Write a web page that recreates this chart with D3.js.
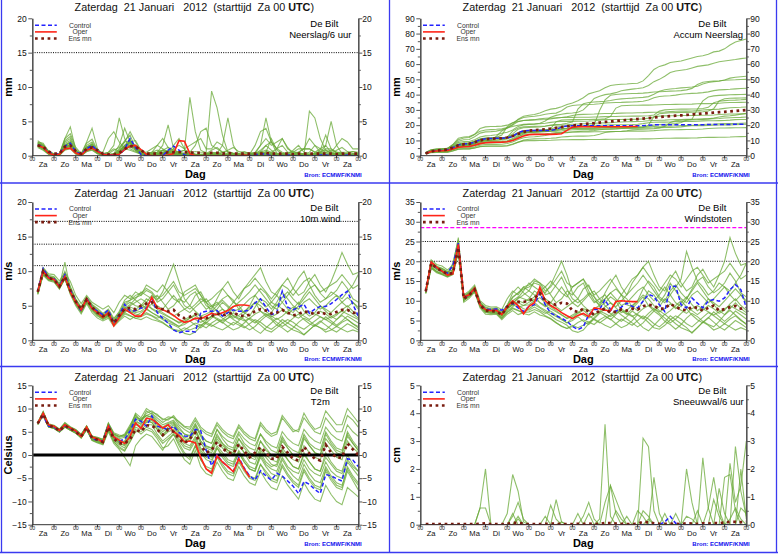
<!DOCTYPE html>
<html>
<head>
<meta charset="utf-8">
<script src="https://cdn.jsdelivr.net/npm/d3@7"></script>
<style>
  body { margin: 0; background: #fff; }
  text { font-family: "Liberation Sans", Arial, Helvetica, sans-serif; }
</style>
</head>
<body>
<svg id="chart" width="778" height="554"></svg>
<script>
// six-hourly forecast steps (+6h .. +360h) and day labels
const hours = d3.range(6, 361, 6);
const dayTicks = d3.range(0, 361, 24);
const dayNames = ["Za", "Zo", "Ma", "Di", "Wo", "Do", "Vr", "Za", "Zo", "Ma", "Di", "Wo", "Do", "Vr", "Za"];

// ---- precipitation per 6 hours (mm) ----
const precipControl = [
  1.6,1.3,0.5,0.2,0.3,1.4,1.8,0.6,0.2,1.0,1.5,0.7,0.2,0.1,0.1,0.1,1.0,2.5,1.2,0.2,
  0.0,0.0,0.0,0.0,0.8,1.4,0.8,0.1,0.0,0.0,0.0,0.0,0.0,0.0,0.0,0.0,0.0,0.0,0.0,0.0,
  0.1,0.3,0.2,0.0,0.0,0.0,0.1,0.0,0.0,0.0,0.0,0.0,0.1,0.1,0.0,0.0,0.0,0.1,0.0,0.0];
const precipOper = [
  1.5,1.2,0.4,0.1,0.2,1.0,1.1,0.4,0.1,0.8,1.1,0.6,0.2,0.1,0.1,0.2,0.9,1.4,1.5,0.9,
  0.2,0.0,0.0,0.0,0.1,0.3,2.2,2.1,0.3,0.0,0.0,0.0,0.0,0.0,0.0,0.0,0.0,0.0,0.1,0.0];
const precipMean = [
  1.5,1.3,0.6,0.3,0.3,1.3,1.5,0.7,0.3,1.0,1.2,0.8,0.3,0.2,0.2,0.4,1.0,1.4,1.3,0.8,
  0.3,0.3,0.3,0.4,0.5,0.5,0.5,0.5,0.5,0.4,0.4,0.3,0.4,0.4,0.3,0.4,0.3,0.3,0.3,0.3,
  0.3,0.3,0.4,0.3,0.3,0.3,0.3,0.2,0.3,0.3,0.3,0.3,0.3,0.3,0.3,0.2,0.3,0.3,0.3,0.3];
const precipMembers = [
  [2.2,1.6,0.5,0.2,0.3,2.5,4.2,0.8,0.2,1.5,2.0,0.8,0.3,0.2,0.3,0.8,2.0,3.5,2.0,0.6,
   0.5,1.0,1.5,1.0,0.5,1.0,1.5,1.0,1.5,2.0,2.5,1.0,1.0,2.0,1.5,0.5,0.3,0.2,0.3,0.2,
   1.5,3.5,4.0,2.0,1.0,1.5,0.5,0.5,1.0,1.0,1.0,0.5,1.0,1.5,0.5,1.5,2.5,2.0,1.0,1.0],
  [1.8,1.4,0.6,0.1,0.2,2.0,2.5,0.6,0.1,1.2,1.8,0.7,0.2,0.5,1.0,0.6,1.5,2.4,1.0,0.3,
   0.2,0.5,1.5,2.5,1.2,0.8,0.5,0.3,0.5,1.5,3.5,4.0,1.5,1.0,0.5,0.8,1.2,0.6,0.5,0.4,
   0.5,1.5,2.5,1.5,2.0,2.5,1.0,0.5,0.5,1.0,1.0,0.5,0.5,1.0,1.0,0.5,0.5,0.5,0.6,0.4],
  [1.6,1.2,0.4,0.1,0.1,1.5,2.0,0.5,0.1,1.0,1.5,0.6,0.2,0.1,0.2,1.0,2.2,3.0,1.0,0.2,
   0.1,0.2,0.5,0.8,0.3,0.2,0.6,0.8,8.5,3.5,0.8,0.4,0.2,0.3,0.5,0.6,0.4,0.3,0.2,0.3,
   0.2,0.5,1.5,2.0,1.0,0.5,0.3,0.4,0.3,0.3,0.5,1.5,1.0,0.5,0.3,0.8,1.2,0.6,0.3,0.3],
  [1.5,1.1,0.3,0.0,0.2,1.0,1.4,0.4,0.0,0.8,1.2,0.5,0.1,0.0,0.1,0.4,1.2,2.0,2.2,0.8,
   0.3,0.2,0.2,0.5,0.8,0.5,0.3,0.2,0.4,0.6,0.5,0.5,9.4,7.0,3.0,0.5,0.3,0.2,0.1,0.1,
   0.2,0.3,0.4,0.2,0.2,0.2,0.1,0.2,0.5,1.0,2.5,1.5,0.5,0.3,0.2,0.3,0.2,0.1,0.2,0.1],
  [2.0,1.5,0.7,0.3,0.2,2.5,3.2,1.2,0.3,2.0,4.0,1.0,0.2,0.1,0.2,0.6,1.5,2.0,1.5,0.5,
   0.3,0.5,0.8,0.5,0.3,1.5,2.5,1.0,0.3,0.2,0.1,0.2,0.3,0.5,0.2,0.1,0.1,0.2,0.1,0.2,
   0.3,0.8,1.5,0.8,0.3,0.2,0.4,0.6,0.3,0.2,0.2,0.3,0.5,0.8,0.5,0.2,0.2,0.3,0.2,0.2],
  [1.7,1.3,0.4,0.1,0.1,1.2,1.6,0.5,0.1,1.2,1.4,0.5,0.1,0.1,0.3,1.5,4.0,2.0,0.8,0.2,
   0.1,0.1,0.2,0.3,0.2,0.1,0.2,0.3,0.2,0.1,0.1,0.2,0.2,0.1,0.1,0.3,0.2,0.1,0.1,0.1,
   0.2,0.3,0.2,0.1,0.1,0.2,0.1,0.1,0.1,0.1,6.5,5.5,2.5,0.8,0.3,0.2,0.2,0.1,0.1,0.1],
  [1.4,1.0,0.3,0.0,0.1,0.9,1.2,0.3,0.0,0.7,1.0,0.4,0.1,0.0,0.1,0.5,1.0,1.6,1.2,0.4,
   0.2,0.3,0.5,0.8,0.6,0.3,0.2,0.4,0.3,0.2,0.2,0.3,0.5,0.4,0.2,0.1,0.1,0.2,0.1,0.1,
   0.3,1.5,5.5,2.0,0.4,0.2,0.1,0.1,0.1,0.1,0.1,0.2,0.5,1.5,5.0,1.5,0.3,0.1,0.1,0.1],
  [1.6,1.1,0.4,0.1,0.2,1.8,2.2,0.6,0.1,1.3,1.6,0.5,0.1,0.0,0.1,0.3,0.8,1.4,1.0,0.3,
   0.1,0.2,0.5,1.5,4.5,1.0,0.2,0.1,0.0,0.1,0.0,0.1,0.1,0.3,1.5,5.5,1.5,0.2,0.1,0.0,
   0.1,0.0,0.1,0.2,0.1,0.0,0.1,0.1,0.0,0.1,0.2,0.1,0.0,0.1,0.2,0.3,0.1,0.0,0.1,0.1],
  [1.3,0.9,0.2,0.0,0.1,0.8,1.0,0.2,0.0,0.6,0.8,0.3,0.0,0.0,0.0,0.2,0.9,1.5,1.4,0.6,
   0.2,0.1,0.1,0.2,0.3,0.5,0.3,0.2,0.1,0.0,0.1,0.3,0.8,1.2,0.5,0.2,0.1,0.3,0.6,0.3,
   0.2,0.1,0.2,0.5,1.0,2.5,1.2,0.3,0.2,0.1,0.1,0.2,0.3,0.5,0.8,0.5,0.3,0.4,0.6,0.5],
  [1.5,1.0,0.3,0.1,0.1,1.4,1.9,0.6,0.2,1.0,1.3,0.5,0.1,0.1,0.2,0.7,1.5,2.0,0.9,0.2,
   0.1,0.0,0.1,0.2,0.4,0.8,0.5,0.2,0.1,0.1,0.0,0.1,0.2,0.1,0.0,0.1,0.2,0.1,0.0,0.1,
   0.1,0.3,0.6,0.4,0.2,0.1,0.3,0.8,1.5,0.5,0.2,0.1,0.0,0.1,0.2,0.3,0.2,0.1,0.1,0.2],
  [1.7,1.3,0.5,0.2,0.2,1.6,2.0,0.6,0.1,1.1,1.5,0.6,0.2,0.1,0.1,0.4,1.2,1.8,1.2,0.3,
   0.1,0.2,0.1,0.0,0.1,0.3,0.2,0.1,0.0,0.0,0.1,0.0,0.1,0.2,0.1,0.0,0.0,0.1,0.0,0.1,
   0.1,0.2,0.3,0.2,0.1,0.0,0.1,0.2,0.1,0.1,0.2,0.3,0.2,0.1,0.2,0.1,0.0,0.1,0.2,0.1],
  [1.4,1.0,0.3,0.1,0.2,1.2,1.5,0.4,0.1,0.9,1.2,0.4,0.1,0.0,0.1,0.5,1.3,1.9,1.1,0.3,
   0.1,0.1,0.2,0.3,0.4,0.2,0.1,0.1,0.0,0.0,0.1,0.1,0.0,0.0,0.1,0.1,0.0,0.1,0.1,0.0,
   0.0,0.1,0.2,0.3,0.2,0.1,0.0,0.1,0.1,0.0,0.1,0.2,0.3,0.2,0.1,0.0,0.1,0.1,0.0,0.1],
  [1.2,0.8,0.2,0.0,0.0,0.9,1.1,0.3,0.0,0.6,0.9,0.3,0.1,0.0,0.0,0.3,0.9,1.3,0.8,0.2,
   0.0,0.1,0.0,0.1,0.2,0.1,0.0,0.1,0.0,0.0,0.1,0.0,0.0,0.1,0.1,0.0,0.0,0.1,0.0,0.0,
   0.1,0.0,0.1,0.2,0.1,0.0,0.1,0.0,0.0,0.1,0.1,0.2,0.1,0.0,0.1,0.0,0.1,0.2,0.1,0.1],
  [1.9,1.5,0.6,0.2,0.3,2.2,2.8,0.9,0.2,1.8,2.4,0.8,0.2,0.3,0.8,1.2,2.0,2.2,0.8,0.2,
   0.1,0.1,0.2,0.4,0.6,0.3,0.1,0.0,0.1,0.0,0.0,0.1,0.1,0.2,0.1,0.0,0.1,0.0,0.1,0.0,
   0.1,0.2,0.5,2.5,0.8,0.3,0.1,0.1,0.0,0.1,0.1,0.2,0.8,3.0,1.0,0.4,0.2,0.1,0.2,0.3],
  [1.5,1.2,0.4,0.1,0.1,1.3,1.6,0.4,0.1,1.1,1.4,0.5,0.5,2.5,3.5,2.0,1.0,0.8,0.5,0.2,
   0.1,0.2,0.3,0.5,0.4,0.2,0.1,0.0,0.1,0.0,0.1,0.2,0.4,0.3,0.1,0.0,0.0,0.1,0.0,0.1,
   0.2,0.5,0.8,0.5,0.2,0.1,0.0,0.1,0.0,0.0,0.1,0.1,0.0,0.2,0.3,0.2,0.1,0.0,0.1,0.1],
  [2.0,1.8,0.6,0.2,0.2,1.2,1.6,0.7,0.2,0.9,1.2,0.6,0.3,0.5,1.5,5.5,2.5,1.0,0.6,0.2,
   0.3,0.5,0.4,0.2,0.1,0.2,0.5,0.8,0.6,0.2,0.1,0.1,0.2,0.1,0.0,0.1,0.2,0.1,0.0,0.1,
   0.1,0.2,0.1,0.0,0.1,0.3,0.2,0.1,0.0,0.1,0.2,0.4,0.3,0.1,0.2,0.5,0.4,0.2,0.1,0.2],
  [1.6,1.2,0.3,0.1,0.1,1.1,1.4,0.4,0.1,1.0,1.3,0.5,0.1,0.1,0.1,0.4,1.4,2.2,1.4,0.4,
   0.2,0.3,0.2,0.1,0.1,0.2,0.4,0.3,0.1,0.0,0.0,0.1,0.1,0.0,0.1,0.2,0.3,0.1,0.0,0.0,
   0.1,0.0,0.1,0.2,0.1,0.0,0.1,0.3,0.5,0.2,0.1,0.0,0.1,0.1,0.2,0.1,0.0,0.1,0.2,0.1],
  [1.8,1.4,0.5,0.1,0.1,1.5,1.8,0.5,0.1,1.2,1.6,0.6,0.2,0.1,0.1,0.3,1.0,1.5,1.2,0.4,
   0.1,0.2,0.3,0.8,1.2,0.6,0.2,0.1,0.0,0.1,0.2,0.1,0.0,0.1,0.2,0.1,0.0,0.0,0.1,0.2,
   0.4,0.6,0.3,0.1,0.0,0.1,0.2,0.1,0.0,0.1,0.1,0.2,0.1,0.0,0.1,0.1,0.2,0.3,0.1,0.0]];

// ---- 10 m wind (m/s) ----
const windControl = [
  7.1,10.4,9.1,8.9,7.8,9.5,7.3,5.6,4.2,6.1,4.7,4.2,3.7,4.4,2.5,3.7,5.2,4.2,4.3,4.7,
  4.6,6.1,4.0,3.2,2.5,1.5,1.1,1.3,1.3,1.2,4.0,4.2,4.2,4.3,3.5,4.0,4.4,4.2,4.2,4.4,
  5.4,6.0,4.8,3.7,4.0,7.1,4.8,4.4,4.8,5.2,3.9,4.5,4.9,4.9,5.3,5.9,6.6,7.1,5.2,3.5];
const windOper = [
  7.0,10.0,9.0,8.8,7.7,9.2,7.0,5.5,4.4,6.0,4.6,4.0,3.3,4.0,2.1,3.3,4.5,4.0,3.5,3.5,
  4.5,6.2,4.7,4.4,4.1,3.6,3.0,2.6,2.8,3.2,3.1,3.5,3.9,3.7,4.0,4.3,4.9,5.1,5.1,5.0];
const windMean = [
  7.0,10.0,9.0,8.8,7.8,9.2,7.2,5.6,4.5,5.9,4.8,4.0,3.5,3.8,2.5,3.6,4.5,4.7,4.5,5.0,
  5.3,5.5,4.7,4.5,4.2,4.4,3.6,3.2,3.4,3.8,3.2,3.2,3.5,3.9,3.6,3.8,4.0,3.6,3.5,3.7,
  4.2,4.5,4.3,3.9,4.0,4.4,4.0,3.6,3.8,4.2,4.0,3.8,4.1,3.8,3.8,4.1,4.4,4.4,4.0,3.9];
const windMembers = [
  [7.2,10.4,9.4,9.2,8.2,10.0,7.8,6.0,4.8,6.3,5.2,4.6,3.9,4.5,3.2,4.0,5.5,5.8,6.2,6.5,
   7.2,6.8,5.5,6.0,7.0,8.0,6.5,5.0,4.5,5.2,6.0,5.5,4.8,5.2,6.0,6.5,5.8,4.5,4.0,5.0,
   6.5,7.5,6.8,5.5,5.0,6.2,7.0,6.0,5.2,6.5,7.5,8.0,6.8,6.0,6.5,7.2,8.5,7.5,6.0,5.5],
  [6.8,9.6,8.7,8.5,7.5,8.8,6.8,5.2,4.0,5.5,4.3,3.5,3.0,3.4,2.2,3.0,3.8,3.5,3.2,3.4,
   3.8,3.5,3.0,2.6,2.0,1.5,1.2,1.5,2.0,2.5,2.2,1.8,2.5,3.0,2.6,2.0,1.5,1.8,2.5,3.2,
   2.8,2.2,1.5,1.2,1.8,2.5,3.0,2.6,2.0,1.6,2.2,2.8,3.4,3.0,2.5,2.0,2.6,3.0,2.4,2.0],
  [7.0,10.2,9.2,8.9,7.9,11.3,7.4,5.8,4.6,6.0,5.0,4.2,3.6,4.2,2.8,3.8,5.0,5.5,5.0,4.8,
   5.5,6.5,5.8,7.0,9.0,11.0,8.5,6.0,5.0,6.5,7.0,5.5,4.0,4.5,5.5,4.8,3.5,3.0,3.8,4.5,
   5.5,4.2,3.5,4.0,5.2,4.5,3.8,4.5,5.5,4.2,3.5,4.0,5.0,4.2,3.5,3.0,3.8,4.5,3.8,3.2],
  [6.6,9.4,8.6,8.4,7.4,9.0,6.6,5.0,3.8,5.3,4.0,3.2,2.8,3.2,2.0,2.8,3.5,3.0,3.5,4.0,
   4.5,4.0,3.5,3.0,2.5,2.2,1.8,1.0,0.8,1.2,2.0,2.8,3.5,3.0,2.5,3.2,4.0,3.5,3.0,2.2,
   1.5,1.0,1.8,2.5,3.2,2.6,2.0,1.5,1.2,0.8,1.5,2.2,2.8,2.2,1.6,1.2,1.8,2.4,2.0,1.5],
  [7.3,10.5,9.6,9.5,8.6,9.8,8.5,6.5,5.3,6.5,5.5,5.0,4.5,5.0,4.0,5.5,6.5,6.0,7.0,6.5,
   8.0,7.5,7.0,8.0,7.0,6.0,5.5,7.0,7.5,8.0,6.5,5.0,4.5,6.0,7.5,8.5,7.0,6.0,7.5,8.5,
   9.5,10.5,8.5,7.0,6.5,8.0,9.0,7.5,6.5,7.0,8.5,9.5,8.0,7.0,8.5,10.5,12.7,11.0,9.5,9.8],
  [7.0,9.8,8.9,8.7,7.7,9.3,7.0,5.5,4.3,5.8,4.6,3.8,3.2,3.6,2.4,3.4,4.2,4.5,4.0,4.2,
   4.8,5.2,4.5,4.0,3.5,3.0,2.5,2.8,3.2,3.8,3.5,3.0,3.4,4.0,4.5,3.8,3.2,3.6,4.2,4.8,
   5.5,5.0,4.2,3.5,3.0,3.5,4.2,4.8,4.0,3.5,3.0,3.6,4.2,3.8,3.2,3.6,4.4,5.0,4.2,3.6],
  [6.9,10.0,9.0,8.8,7.8,9.5,7.2,5.6,4.4,6.1,4.8,4.0,3.4,3.9,2.6,3.5,4.5,5.0,5.5,6.0,
   5.5,4.5,4.0,4.5,5.5,6.5,5.5,4.5,4.0,4.8,5.5,6.0,5.0,4.2,3.5,4.5,5.5,5.0,4.0,3.5,
   4.8,6.0,5.5,4.5,5.5,7.0,6.0,5.0,4.5,5.5,6.0,5.2,4.5,5.0,5.8,6.5,5.5,4.8,5.5,4.8],
  [7.1,10.1,9.1,8.9,7.9,9.1,7.3,5.7,4.5,5.9,4.7,4.1,3.5,3.7,2.5,3.6,4.8,4.2,3.8,3.6,
   4.0,3.6,3.2,3.5,3.0,2.5,2.0,2.3,2.8,2.2,1.8,2.5,3.2,3.8,3.2,2.6,2.2,2.8,3.5,3.0,
   2.5,3.2,3.8,3.2,2.6,2.0,2.5,3.2,3.8,3.0,2.4,2.0,2.6,3.4,2.8,2.2,2.8,3.5,3.0,2.5],
  [6.7,9.5,8.8,8.6,7.6,8.9,6.9,5.3,4.1,5.6,4.4,3.6,3.1,3.5,2.3,3.2,4.0,4.8,4.5,5.0,
   6.0,5.5,5.0,4.5,4.0,3.5,4.0,4.5,5.0,4.2,3.5,3.8,4.2,5.0,5.8,5.0,4.2,4.5,5.2,6.0,
   6.5,5.5,4.8,5.5,6.5,5.5,4.5,4.0,5.0,6.0,7.0,6.0,5.0,4.5,4.0,4.8,5.5,6.2,5.5,4.5],
  [7.2,10.3,9.3,9.1,8.1,9.6,7.6,5.9,4.7,6.2,5.1,4.4,3.8,4.3,3.0,4.2,5.8,6.5,5.8,5.2,
   4.6,4.0,3.6,3.2,2.8,2.4,2.0,2.6,3.2,3.6,3.0,2.4,2.0,2.5,3.0,3.6,3.0,2.5,2.0,1.5,
   2.0,2.8,3.5,3.0,2.2,1.8,1.2,1.8,2.6,3.2,2.8,2.2,1.8,1.5,2.2,3.0,3.6,3.0,2.4,1.8],
  [6.9,9.9,9.0,8.8,7.7,9.4,7.1,5.5,4.4,5.9,4.7,3.9,3.3,3.8,2.6,3.6,4.6,5.2,6.0,7.0,
   6.5,6.0,6.5,5.5,4.5,5.0,6.0,5.5,6.5,7.0,5.5,4.5,5.0,5.5,4.5,4.0,4.8,5.5,6.2,7.0,
   8.0,7.0,6.0,5.0,4.5,5.5,6.5,7.5,9.0,10.0,8.0,6.5,5.5,6.0,7.0,6.5,6.0,7.0,8.0,9.5],
  [7.0,10.0,9.1,8.8,7.8,9.2,7.2,5.6,4.5,6.0,4.8,4.0,3.5,3.8,2.5,3.6,4.4,4.0,4.2,4.6,
   5.0,4.6,4.2,3.8,3.4,3.0,2.6,3.0,3.4,3.0,2.6,3.0,3.5,3.2,2.8,3.2,3.6,3.2,2.8,3.2,
   3.8,4.2,3.8,3.4,3.8,4.4,4.0,3.6,3.2,3.8,4.2,3.8,3.4,3.0,3.4,3.8,4.2,3.8,3.4,3.0],
  [6.8,9.7,8.8,8.6,7.6,9.0,6.8,5.4,4.2,5.7,4.5,3.7,3.2,3.6,2.4,3.3,4.0,3.6,3.2,3.0,
   3.4,3.0,2.8,2.5,2.0,1.6,1.4,1.8,1.5,1.8,2.2,2.6,2.2,1.8,1.5,2.0,2.6,2.2,1.8,2.4,
   3.0,2.6,2.0,1.6,2.2,3.0,2.5,2.0,1.5,0.8,1.5,2.2,1.8,1.2,1.5,2.0,1.6,1.2,1.5,1.2],
  [7.1,10.2,9.2,9.0,8.0,9.4,7.4,5.8,4.6,6.0,4.9,4.2,3.6,4.1,2.7,3.9,5.2,5.8,6.5,6.8,
   7.5,7.0,6.0,6.5,7.5,8.5,7.0,6.5,7.0,7.5,6.5,5.5,6.0,6.8,7.5,6.5,5.5,6.5,7.5,8.0,
   9.0,8.0,7.0,6.0,7.0,8.0,7.5,6.5,7.5,8.5,9.0,8.0,7.0,7.5,8.0,8.5,9.5,8.5,7.5,8.0]];

// ---- wind gusts (m/s) ----
const gustControl = [
  12.4,19.6,18.3,17.5,17.0,19.0,24.6,10.7,11.6,13.0,9.0,7.9,7.8,7.9,7.6,8.6,9.4,8.2,7.3,8.6,
  9.0,12.0,9.0,6.9,6.2,5.6,4.8,3.5,2.7,3.4,6.5,7.8,7.8,10.3,7.8,7.3,8.4,9.4,8.6,8.2,
  9.9,11.6,11.1,9.0,7.3,13.7,13.7,9.0,8.2,10.7,9.4,8.2,9.9,10.3,9.9,10.7,12.8,14.1,12.8,8.2];
const gustOper = [
  12.4,19.8,18.5,17.5,16.5,16.8,24.3,11.0,11.5,13.2,9.0,7.8,7.5,7.6,6.5,8.5,10.0,8.8,6.7,8.6,
  9.5,13.4,10.0,8.8,8.0,7.0,6.2,5.5,6.3,6.8,6.0,8.2,8.0,7.6,7.5,9.8,10.0,9.9,9.8,9.8];
const gustMean = [
  12.4,19.5,18.3,17.5,16.8,17.0,23.5,10.5,11.5,12.8,9.0,7.5,7.4,7.3,6.5,8.5,9.5,9.7,9.7,10.1,
  10.6,12.0,10.0,9.3,9.0,9.5,9.3,7.5,7.2,8.0,7.3,6.5,7.5,8.0,7.0,7.2,7.8,7.5,8.0,7.8,
  8.6,9.0,8.7,8.0,8.0,9.2,8.5,7.8,7.6,8.5,8.2,7.5,8.2,8.8,7.5,7.9,8.4,8.7,8.0,8.2];
const gustMembers = [
  [12.5,19.8,18.6,18.0,17.2,18.5,24.8,11.0,12.0,13.5,9.5,8.2,7.8,8.0,7.0,9.0,11.0,12.0,13.0,13.5,
   14.5,14.0,11.5,12.0,14.0,16.0,13.0,10.5,9.5,10.5,12.0,11.0,9.5,10.5,12.0,13.0,11.5,9.0,8.5,10.0,
   13.0,15.0,13.5,11.0,10.0,12.5,14.0,12.0,10.5,13.0,15.0,16.0,13.5,12.0,13.0,14.5,17.0,15.0,12.0,11.0],
  [12.0,18.5,17.4,16.8,16.2,16.8,22.5,10.0,11.0,12.5,8.5,7.0,6.8,6.8,5.5,7.0,8.0,7.5,7.0,7.2,
   7.8,7.2,6.2,5.5,4.5,3.5,3.0,3.5,4.5,5.2,4.6,4.0,5.2,6.0,5.4,4.2,3.2,3.8,5.0,6.5,
   5.8,4.5,3.2,2.8,3.8,5.2,6.2,5.4,4.2,3.4,4.6,5.8,7.0,6.2,5.2,4.2,5.4,6.2,5.0,4.2],
  [12.4,19.5,18.4,17.6,16.8,19.5,25.5,10.8,11.8,13.2,9.2,7.8,7.4,7.8,6.5,8.5,10.0,11.0,10.5,10.0,
   11.0,13.0,12.0,14.0,17.0,20.0,16.5,12.0,10.5,13.0,14.0,11.0,8.5,9.5,11.0,10.0,7.5,6.5,8.0,9.5,
   11.0,8.8,7.5,8.5,10.5,9.5,8.0,9.5,11.0,9.0,7.5,8.5,10.5,9.0,7.5,6.5,8.0,9.5,8.0,7.0],
  [11.8,18.2,17.1,16.6,16.0,16.6,22.2,9.6,10.6,12.2,8.2,6.6,6.5,6.6,5.2,6.6,7.5,6.5,7.0,8.0,
   9.0,8.2,7.2,6.2,5.2,4.6,3.8,2.4,2.0,2.6,4.2,5.8,7.0,6.2,5.2,6.5,8.0,7.0,6.2,4.6,
   3.2,2.4,3.8,5.2,6.6,5.4,4.2,3.2,2.6,2.0,3.2,4.6,5.8,4.6,3.4,2.6,3.8,5.0,4.2,3.2],
  [12.8,20.4,19.2,18.8,17.8,19.0,26.0,11.5,12.5,14.0,10.0,8.8,8.4,8.5,7.8,10.5,12.5,11.5,13.5,12.5,
   15.0,14.5,13.5,15.0,13.5,12.0,11.0,13.5,14.5,15.5,12.5,10.0,9.0,12.0,14.5,16.5,13.5,11.5,14.5,16.5,
   18.5,20.0,16.5,13.5,12.5,15.5,17.5,14.5,12.5,13.5,16.5,18.0,15.5,13.5,16.5,20.0,26.0,22.0,19.0,19.5],
  [12.3,19.2,18.0,17.4,16.6,17.2,23.8,10.4,11.4,12.8,9.0,7.4,7.2,7.2,6.2,8.0,9.0,9.5,8.8,9.0,
   10.0,10.8,9.5,8.5,7.5,6.5,5.5,6.0,7.0,8.0,7.5,6.5,7.2,8.5,9.5,8.2,7.0,7.6,8.8,10.0,
   11.5,10.5,8.8,7.5,6.5,7.5,8.8,10.0,8.5,7.5,6.5,7.6,8.8,8.0,6.8,7.6,9.2,10.5,8.8,7.6],
  [12.2,19.4,18.2,17.5,16.7,17.5,24.2,10.6,11.6,13.0,9.1,7.6,7.3,7.5,6.4,8.2,9.5,10.5,11.5,12.5,
   11.5,9.5,8.5,9.5,11.5,13.5,11.5,9.5,8.5,10.0,11.5,12.5,10.5,8.8,7.5,9.5,11.5,10.5,8.5,7.5,
   10.0,12.5,11.5,9.5,11.5,14.5,12.5,10.5,9.5,11.5,12.5,11.0,9.5,10.5,12.0,13.5,11.5,10.0,11.5,10.0],
  [12.6,19.6,18.4,17.8,17.0,17.2,24.0,10.7,11.7,12.9,9.3,7.7,7.5,7.4,6.3,8.3,10.0,8.8,8.0,7.6,
   8.4,7.6,6.8,7.4,6.4,5.4,4.4,5.0,6.0,4.8,4.0,5.4,6.8,8.0,6.8,5.6,4.8,6.0,7.4,6.4,
   5.4,6.8,8.0,6.8,5.6,4.4,5.4,6.8,8.0,6.4,5.2,4.4,5.6,7.2,6.0,4.8,6.0,7.4,6.4,5.4],
  [11.9,18.4,17.3,16.7,16.1,16.9,22.8,10.2,11.2,12.4,8.8,7.2,7.0,7.0,5.8,7.5,8.5,10.0,9.5,10.5,
   12.5,11.5,10.5,9.5,8.5,7.5,8.5,9.5,10.5,8.8,7.5,8.0,8.8,10.5,12.0,10.5,8.8,9.5,11.0,12.5,
   13.5,11.5,10.0,11.5,13.5,11.5,9.5,8.5,10.5,12.5,14.5,12.5,10.5,9.5,8.5,10.0,11.5,13.0,11.5,9.5],
  [12.7,20.0,18.8,18.2,17.4,17.8,24.6,11.2,12.2,13.6,9.6,8.4,8.0,8.2,7.2,8.8,12.0,13.5,12.0,11.0,
   9.6,8.4,7.6,6.8,6.0,5.2,4.4,5.6,6.8,7.6,6.4,5.2,4.4,5.4,6.4,7.6,6.4,5.4,4.4,3.4,
   4.4,6.0,7.4,6.4,4.8,4.0,2.8,4.0,5.6,6.8,6.0,4.8,4.0,3.4,4.8,6.4,7.6,6.4,5.2,4.0],
  [12.1,19.0,17.9,17.3,16.5,17.6,23.6,10.4,11.4,12.7,9.0,7.3,7.1,7.3,6.2,8.0,9.2,10.8,12.5,14.5,
   13.5,12.5,13.5,11.5,9.5,10.5,12.5,11.5,13.5,14.5,11.5,9.5,10.5,11.5,9.5,8.5,10.0,11.5,13.0,14.5,
   16.5,14.5,12.5,10.5,9.5,11.5,13.5,15.5,22.5,18.5,15.0,13.5,11.5,12.5,14.5,13.5,12.5,14.5,16.5,19.5],
  [12.4,19.3,18.1,17.5,16.7,17.0,23.4,10.5,11.5,12.8,9.0,7.5,7.4,7.3,6.3,8.0,9.0,8.4,8.8,9.6,
   10.4,9.6,8.8,8.0,7.2,6.4,5.6,6.4,7.2,6.4,5.6,6.4,7.4,6.8,6.0,6.8,7.6,6.8,6.0,6.8,
   8.0,8.8,8.0,7.2,8.0,9.2,8.4,7.6,6.8,8.0,8.8,8.0,7.2,6.4,7.2,8.0,8.8,8.0,7.2,6.4],
  [12.0,18.6,17.5,17.0,16.3,16.7,22.6,10.1,11.1,12.3,8.6,7.1,6.9,6.9,5.6,7.2,8.2,7.6,6.8,6.4,
   7.2,6.4,6.0,5.4,4.4,3.6,3.0,3.8,3.2,3.8,4.6,5.4,4.6,3.8,3.2,4.2,5.4,4.6,3.8,5.0,
   6.2,5.4,4.2,3.4,4.6,6.2,5.2,4.2,3.2,1.8,3.2,4.6,3.8,2.6,3.2,4.2,3.4,2.6,3.2,2.6],
  [12.5,19.7,18.5,18.2,17.3,17.8,24.4,11.1,12.1,13.3,9.5,8.0,7.7,7.9,6.7,8.6,10.8,12.0,13.5,14.0,
   15.5,14.5,12.5,13.5,15.5,17.5,14.5,13.5,14.5,15.5,13.5,11.5,12.5,14.0,15.5,13.5,11.5,13.5,15.5,16.5,
   18.5,16.5,14.5,12.5,14.5,16.5,15.5,13.5,15.5,17.5,18.5,16.5,14.5,15.5,16.5,17.5,19.5,17.5,15.5,16.5]];

// ---- 2 m temperature (Celsius) ----
const tempControl = [
  6.8,8.4,6.2,6.0,5.2,6.4,5.7,5.1,4.1,5.9,3.5,3.2,3.0,6.4,3.9,3.0,3.4,5.2,7.7,7.3,
  6.2,8.4,6.2,5.9,5.4,6.2,4.8,4.1,4.0,5.5,5.2,1.0,-2.3,0.0,-1.5,-2.5,-3.5,-0.5,-2.8,-4.5,
  -5.4,-3.4,-4.5,-5.4,-3.9,-4.5,-5.6,-6.7,-8.3,-5.7,-6.3,-7.4,-8.3,-4.2,-4.5,-5.1,-5.6,-0.8,-1.1,-2.5];
const tempOper = [
  6.8,9.0,6.5,6.2,5.3,6.5,5.8,5.2,4.0,6.0,3.8,3.5,2.7,6.2,3.9,3.2,2.5,4.0,6.9,5.7,
  7.9,7.7,6.8,5.8,6.5,5.0,4.2,2.8,3.0,2.6,-0.5,-3.0,-3.9,-0.2,-1.5,-2.5,-3.6,-0.8,-3.0,-4.8];
const tempMean = [
  6.8,8.8,6.3,6.0,5.2,6.3,5.7,5.0,4.0,5.9,3.7,3.3,2.8,6.0,3.5,2.5,2.5,3.4,5.5,5.0,
  6.4,6.3,5.5,4.3,5.5,5.0,3.5,2.5,3.5,4.8,2.0,0.5,1.0,2.8,1.5,0.5,0.3,2.3,0.8,-0.5,
  0.5,1.7,0.5,-0.8,-0.8,1.8,0.5,-0.8,-1.2,1.8,0.3,-0.8,-1.2,2.2,0.5,-0.6,-0.5,2.5,1.2,0.0];
const tempMembers = [
  [6.9,9.2,6.5,6.2,5.4,6.8,5.9,5.3,4.3,6.2,3.9,3.6,3.2,6.8,4.6,4.0,4.5,6.5,8.5,7.5,
   9.0,9.5,8.5,7.8,7.5,8.5,7.0,6.0,5.5,7.5,5.5,4.5,4.0,6.5,5.0,4.0,3.5,6.0,4.5,3.5,
   3.0,6.5,5.0,4.0,4.5,8.0,6.5,5.0,5.5,9.0,7.0,5.5,6.0,9.5,8.0,6.5,6.5,10.0,8.5,7.0],
  [6.6,8.6,6.0,5.8,5.0,6.0,5.4,4.8,3.8,5.5,3.2,2.7,2.5,5.6,3.0,1.5,0.8,3.0,5.5,4.5,
   5.5,5.0,3.5,1.5,2.0,3.5,1.0,-1.0,-2.0,1.0,-2.5,-4.0,-4.5,-1.5,-3.5,-5.0,-5.5,-2.5,-4.5,-6.0,
   -6.5,-3.5,-5.5,-7.0,-7.5,-4.5,-6.5,-8.0,-9.5,-6.0,-8.0,-9.5,-10.0,-6.5,-8.5,-10.0,-10.7,-7.0,-8.0,-9.0],
  [6.8,8.9,6.3,6.0,5.2,6.4,5.7,5.0,4.0,5.9,3.6,3.3,2.9,6.2,3.8,3.0,2.5,4.5,7.5,6.5,
   8.0,8.5,7.0,5.5,6.5,7.0,5.0,3.5,3.0,5.0,2.5,1.0,0.5,3.0,1.5,0.5,0.0,2.5,0.5,-0.5,
   -1.0,1.5,0.0,-1.0,-1.5,1.5,0.0,-1.0,-1.5,2.0,0.5,-0.5,-1.0,2.5,1.0,-0.5,-1.0,3.0,1.5,0.5],
  [7.0,9.4,6.7,6.4,5.6,7.0,6.1,5.5,4.5,6.3,4.1,3.8,3.4,6.9,4.8,4.3,4.0,5.5,8.0,7.8,
   8.5,9.0,8.0,7.0,7.8,8.2,6.5,5.5,4.8,6.8,4.5,3.0,2.5,5.5,4.0,3.0,2.5,5.0,3.5,2.5,
   2.0,4.5,3.0,2.0,1.5,5.0,3.5,2.5,2.0,5.5,4.0,3.0,2.5,6.0,4.5,3.5,3.0,6.5,5.0,4.0],
  [6.5,8.5,6.0,5.7,4.9,6.0,5.3,4.7,3.6,5.4,3.1,2.6,2.2,5.0,2.5,1.2,-0.5,-2.3,2.0,3.5,
   4.5,4.0,2.5,1.0,3.0,4.5,2.0,0.0,-1.0,2.0,-1.0,-3.0,-3.5,-0.5,-2.5,-4.0,-4.5,-1.5,-3.5,-5.0,
   -5.5,-2.0,-4.0,-5.5,-6.0,-2.5,-4.5,-6.0,-7.0,-3.5,-5.5,-7.0,-7.5,-3.0,-5.0,-6.5,-7.0,-2.5,-4.5,-6.0],
  [6.9,9.0,6.4,6.1,5.3,6.5,5.8,5.2,4.2,6.0,3.8,3.5,3.1,6.5,4.2,3.5,3.8,5.8,8.8,7.0,
   9.5,8.8,7.5,6.5,7.0,7.5,6.0,4.5,4.0,6.5,4.0,2.0,1.5,4.5,2.5,1.0,0.5,3.5,1.5,0.0,
   -0.5,3.0,1.0,0.0,-0.5,3.5,1.5,0.0,-0.5,4.0,2.0,0.5,0.0,4.5,2.5,1.0,0.5,5.0,3.0,1.5],
  [6.7,8.7,6.1,5.9,5.1,6.2,5.5,4.9,3.9,5.7,3.4,3.0,2.6,6.0,3.5,2.5,2.0,4.0,6.5,6.0,
   7.0,7.5,6.0,4.5,5.5,6.0,4.0,2.5,2.0,4.0,1.5,0.0,-0.5,2.0,0.5,-1.0,-1.5,1.0,-1.0,-2.5,
   -3.0,0.0,-2.0,-3.0,-3.5,-0.5,-2.5,-3.5,-4.0,-1.0,-3.0,-4.0,-4.5,-1.5,-3.5,-4.5,-5.0,-1.5,-3.0,-4.5],
  [6.8,8.8,6.2,6.0,5.2,6.3,5.6,5.1,4.1,5.8,3.5,3.1,2.8,6.3,3.7,2.8,3.0,5.0,7.0,6.8,
   7.5,7.0,5.5,4.0,5.5,6.5,4.5,3.0,3.5,5.5,3.0,1.5,1.0,3.5,2.0,1.0,0.0,2.0,0.5,-1.5,
   -2.0,1.0,-0.5,-2.0,-2.5,0.5,-1.0,-2.5,-3.0,0.0,-1.5,-3.0,-3.5,-0.5,-2.0,-3.5,-4.0,-1.0,-2.5,-3.5],
  [6.9,9.1,6.5,6.3,5.5,6.7,6.0,5.4,4.4,6.1,4.0,3.7,3.3,6.6,4.4,3.8,4.2,6.2,9.0,8.0,
   10.0,9.2,8.8,7.5,8.2,8.0,7.2,6.2,6.0,8.0,6.0,5.0,4.5,7.0,5.5,4.5,4.0,6.5,5.0,4.0,
   3.5,7.0,5.5,4.5,5.0,8.5,7.0,5.5,5.0,8.0,6.5,5.0,4.5,8.0,6.5,5.0,5.0,8.5,7.5,6.0],
  [6.6,8.7,6.1,5.8,5.0,6.1,5.4,4.8,3.8,5.6,3.3,2.9,2.4,5.5,3.2,2.2,1.5,3.5,6.0,5.5,
   6.5,6.5,4.5,3.0,4.0,5.0,3.0,1.5,1.0,3.0,0.5,-1.0,-1.5,1.5,-0.5,-2.0,-2.5,0.5,-1.5,-3.0,
   -3.5,-0.5,-2.5,-4.0,-4.5,-1.0,-3.0,-4.5,-5.5,-2.0,-4.0,-5.5,-6.0,-2.5,-4.5,-6.0,-6.5,-3.0,-5.0,-6.5],
  [7.0,9.3,6.6,6.3,5.5,6.9,6.0,5.4,4.4,6.2,4.0,3.7,3.3,6.7,4.5,4.0,4.3,6.0,8.2,7.5,
   8.5,8.2,7.0,6.0,6.8,7.2,5.5,4.5,4.2,6.2,4.2,3.0,2.5,5.5,3.5,2.0,1.5,4.5,2.5,1.5,
   1.0,4.5,2.5,1.0,0.5,4.0,2.0,1.0,0.5,4.5,2.5,1.5,1.0,5.0,3.0,1.5,1.0,4.5,2.5,1.0],
  [6.7,8.8,6.2,5.9,5.1,6.3,5.6,5.0,4.0,5.8,3.5,3.1,2.7,6.1,3.6,2.6,2.2,4.2,6.8,6.2,
   7.2,7.0,5.5,4.0,5.0,5.5,3.5,2.0,1.5,3.5,1.0,-0.5,-1.0,1.5,0.0,-1.5,-2.0,0.5,-1.5,-3.0,
   -3.5,0.5,-1.5,-2.5,-2.0,1.0,-1.0,-2.5,-3.0,0.5,-1.5,-3.0,-3.5,0.5,-1.5,-3.0,-3.5,0.0,-2.0,-3.5],
  [6.8,9.0,6.4,6.2,5.4,6.6,5.9,5.3,4.3,6.0,3.9,3.5,3.0,6.4,4.0,3.2,2.8,5.2,7.8,7.2,
   8.5,8.0,6.5,5.0,6.0,6.8,5.0,3.8,3.5,5.5,3.0,1.8,1.5,4.0,2.5,1.5,1.0,3.5,2.0,0.5,
   0.0,3.0,1.5,0.0,-0.5,3.0,1.5,0.0,-0.5,3.5,2.0,0.5,0.0,3.5,2.0,0.5,0.0,4.0,2.5,1.0],
  [6.6,8.5,6.0,5.7,5.0,6.0,5.3,4.7,3.7,5.5,3.2,2.8,2.3,5.3,2.8,1.8,1.0,2.8,5.0,5.0,
   6.0,5.5,4.0,2.5,3.5,4.5,2.5,0.5,-0.5,2.0,-1.0,-2.5,-3.0,0.0,-2.0,-3.5,-4.0,-1.0,-3.0,-4.5,
   -5.0,-2.0,-3.5,-5.0,-5.5,-2.0,-4.0,-5.5,-6.5,-3.0,-5.0,-6.5,-7.0,-3.5,-5.5,-7.0,-7.5,-3.5,-5.5,-7.5]];

// ---- snowfall per 6 hours (cm) ----
const snowControl = [
  0,0,0,0,0,0,0,0,0,0,0,0,0,0,0,0,0,0,0,0,
  0,0,0,0,0,0,0,0,0,0,0,0,0,0,0,0,0,0,0,0,
  0,0,0,0,0.1,0.3,0.05,0,0,0,0,0,0,0,0,0,0,0,0,0];
const snowOper = [
  0,0,0,0,0,0,0,0,0,0,0,0,0,0,0,0,0,0,0,0,
  0,0,0,0,0,0,0,0,0,0,0,0,0,0,0,0,0,0,0,0];
const snowMean = [
  0.02,0.02,0.02,0.02,0.02,0.02,0.02,0.02,0.02,0.02,0.03,0.05,0.02,0.02,0.02,0.03,0.07,0.07,0.03,0.02,
  0.02,0.02,0.03,0.04,0.04,0.02,0.02,0.02,0.03,0.03,0.04,0.02,0.03,0.06,0.06,0.04,0.03,0.02,0.02,0.04,
  0.1,0.08,0.05,0.03,0.03,0.04,0.03,0.02,0.05,0.04,0.03,0.05,0.04,0.06,0.05,0.08,0.1,0.1,0.09,0.1];
const snowMembers = [
  [0,0,0,0,0,0,0,0,0,0,0.6,2.0,0,0,0,0,0,0,0,0,
   0,0,0,0,0,0,0,0,0,0,0,0,0.2,3.6,0.3,0,0,0,0,0,
   0,0,0,0,0,0,0,0,0,0,0,0,0,0,0,0,0.2,0.6,0.2,0],
  [0,0,0,0,0,0,0,0,0,0,0.6,0.6,0,0,0,0.4,1.8,1.2,0.1,0,
   0,0,0,0,0,0,0,0,0,0,0,0,0,0,1.4,0.9,0.4,0,0,0,
   0,0,0,0,0,0,0,0,2.0,0.8,0,0,0,0,0,0,0,0,0,0],
  [0,0,0,0,0,0,0,0,0,0,0,0,0,0,0,0,0.3,0.8,0.2,0,
   0,0,0,0.7,0.2,0,0,0,0,0,0,0,0,0,0,0,0,0,0,0,
   3.1,2.8,0.5,0,0,0,0,0,0,0,0,0,0,0,0,1.7,1.8,0.5,0,0],
  [0,0,0,0,0,0,0,0,0,0,0,0,0,0,0,0,0.4,0,0,0,
   0,0,0,0,0.9,0.1,0,0,0,0.3,0.8,0.2,0,0,0,0,0,0,0,0,
   0,0,1.7,0.4,0,0,0,0,0,0,0,2.4,0.6,0,0,0,0,2.8,1.2,0.3],
  [0,0,0,0,0,0,0,0,0,0,0,0,0,0,0,0,0,0.3,0,0,
   0,0,0,0,0,0,0,0,0.4,0,0,0,0,0,0,0.5,0.2,0,0,0.5,
   0.3,0,0,0,0.4,0,0,0,0,0,0.5,0,0,0.9,0.3,0,2.2,0.8,1.4,3.0],
  [0,0,0,0,0,0,0,0,0,0,0,0,0,0,0,0,0,0,0,0,
   0,0,0.3,0,0,0,0,0,0,0,0.4,0,0,0.8,1.4,0.4,0,0,0,0,
   0,0.2,0,0,0,0,0,0,0.3,0.2,0,0,0.6,1.7,0.5,0,0,0,0.6,0.4],
  [0,0,0,0,0,0,0,0,0,0,0,0,0,0,0,0,0,0.2,0,0,
   0,0,0,0,0,0.1,0,0,0,0,0,0,0,0,0,0,0,0.3,0,0,
   0.5,0.3,0,0,0,0,0.4,0,0,0,0,0,0,0,1.3,0.4,0,0,2.0,0.2]];

// accumulated precipitation is the running total of the six-hourly amounts
const accum = a => Array.from(d3.cumsum(a));

const panels = [
  { col: 0, row: 0, domain: [0, 20], step: 5, unit: "mm", name: "Neerslag/6 uur",
    members: precipMembers, control: precipControl, oper: precipOper, mean: precipMean,
    refs: [{ v: 15, dash: "1,1.3" }] },
  { col: 1, row: 0, domain: [0, 90], step: 10, unit: "mm", name: "Accum Neerslag",
    members: precipMembers.map(accum), control: accum(precipControl), oper: accum(precipOper), mean: accum(precipMean),
    refs: [] },
  { col: 0, row: 1, domain: [0, 20], step: 5, unit: "m/s", name: "10m wind",
    members: windMembers, control: windControl, oper: windOper, mean: windMean,
    refs: [{ v: 10.8, dash: "1,1.3" }, { v: 13.9, dash: "1,1.3" }, { v: 17.2, dash: "1,1.3" }] },
  { col: 1, row: 1, domain: [0, 35], step: 5, unit: "m/s", name: "Windstoten",
    members: gustMembers, control: gustControl, oper: gustOper, mean: gustMean,
    refs: [{ v: 20, dash: "1,1.3" }, { v: 25, dash: "1,1.3" }, { v: 28.5, dash: "4,2", color: "#ff00ff", width: 1.2 }] },
  { col: 0, row: 2, domain: [-15, 15], step: 5, unit: "Celsius", name: "T2m",
    members: tempMembers, control: tempControl, oper: tempOper, mean: tempMean,
    refs: [{ v: 0, width: 3, over: true }] },
  { col: 1, row: 2, domain: [0, 5], step: 1, unit: "cm", name: "Sneeuwval/6 uur",
    members: snowMembers, control: snowControl, oper: snowOper, mean: snowMean,
    refs: [] }
];

const cols = [{ left: 32.3, right: 358.3 }, { left: 420.3, right: 746.3 }];
const rows = [
  { title: 11, top: 18.3, bottom: 155.7 },
  { title: 196.5, top: 202, bottom: 340.3 },
  { title: 381, top: 385.3, bottom: 524.7 }
];

const styles = {
  member: { stroke: "#6aaa38", width: 1.1, opacity: 0.75 },
  control: { stroke: "#2222ff", width: 1.5, dash: "4,2.5" },
  oper: { stroke: "#ff2418", width: 1.6 },
  mean: { stroke: "#7a1c10", width: 2.7, dash: "2.7,3.6" }
};

const svg = d3.select("#chart");
const defs = svg.append("defs");

function styleLine(sel, s) {
  return sel.attr("fill", "none")
    .attr("stroke", s.stroke)
    .attr("stroke-width", s.width)
    .attr("stroke-dasharray", s.dash || null)
    .attr("stroke-opacity", s.opacity || 1);
}

panels.forEach((p, k) => {
  const c = cols[p.col], r = rows[p.row];
  const x = d3.scaleLinear().domain([0, 360]).range([c.left, c.right]);
  const y = d3.scaleLinear().domain(p.domain).range([r.bottom, r.top]);
  const g = svg.append("g");
  const line = d3.line().x((d, i) => x(hours[i])).y(d => y(d));

  defs.append("clipPath").attr("id", "clip" + k).append("rect")
    .attr("x", c.left).attr("y", r.top - 2)
    .attr("width", c.right - c.left).attr("height", r.bottom - r.top + 2);
  const plot = g.append("g").attr("clip-path", `url(#clip${k})`);

  const drawRefs = over => p.refs.filter(d => !!d.over === over).forEach(ref => {
    plot.append("line")
      .attr("x1", c.left).attr("x2", c.right)
      .attr("y1", y(ref.v)).attr("y2", y(ref.v))
      .attr("stroke", ref.color || "#000")
      .attr("stroke-width", ref.width || 1)
      .attr("stroke-dasharray", ref.dash || null);
  });

  drawRefs(false);
  plot.append("g").selectAll("path").data(p.members).join("path")
    .attr("d", line)
    .call(styleLine, styles.member);
  drawRefs(true);
  plot.append("path").attr("d", line(p.control)).call(styleLine, styles.control);
  plot.append("path").attr("d", line(p.oper)).call(styleLine, styles.oper);
  plot.append("path").attr("d", line(p.mean)).call(styleLine, styles.mean);

  // y axes, both sides
  const major = d3.range(p.domain[0], p.domain[1] + 1e-9, p.step);
  const minor = d3.range(p.domain[0] + p.step / 2, p.domain[1], p.step);
  const fmt = d3.format("~g");
  const axisStyle = a => {
    a.attr("font-size", 8.5).attr("font-family", null);
    a.select(".domain").attr("stroke", "#555").attr("stroke-width", 1.6);
    a.selectAll(".tick line").attr("stroke", "#555");
    a.selectAll(".tick text").attr("fill", "#111");
  };
  g.append("g").attr("transform", `translate(${c.left},0)`)
    .call(d3.axisLeft(y).tickValues(major).tickFormat(fmt).tickSize(4).tickSizeOuter(0).tickPadding(1.6))
    .call(axisStyle);
  g.append("g").attr("transform", `translate(${c.right},0)`)
    .call(d3.axisRight(y).tickValues(major).tickFormat(fmt).tickSize(4).tickSizeOuter(0).tickPadding(0))
    .call(axisStyle);
  [[d3.axisLeft, c.left], [d3.axisRight, c.right]].forEach(([ax, pos]) => {
    g.append("g").attr("transform", `translate(${pos},0)`)
      .call(ax(y).tickValues(minor).tickSize(2.5).tickFormat(""))
      .call(a => a.select(".domain").remove())
      .call(a => a.selectAll("line").attr("stroke", "#555"));
  });

  // time axis
  g.append("line")
    .attr("x1", c.left).attr("x2", c.right).attr("y1", r.bottom).attr("y2", r.bottom)
    .attr("stroke", "#333").attr("stroke-width", 1);
  g.append("g").selectAll("line").data(dayTicks).join("line")
    .attr("x1", d => x(d)).attr("x2", d => x(d))
    .attr("y1", r.bottom).attr("y2", r.bottom + 2.5)
    .attr("stroke", "#333");
  g.append("g").selectAll("text").data(dayTicks).join("text")
    .attr("x", d => x(d)).attr("y", r.bottom + 5.6)
    .attr("text-anchor", "middle").attr("font-size", 5.2).attr("fill", "#222")
    .text("00");
  g.append("g").selectAll("text").data(dayNames).join("text")
    .attr("x", (d, i) => x(24 * i + 12)).attr("y", r.bottom + 11.6)
    .attr("text-anchor", "middle").attr("font-size", 7.6).attr("fill", "#111")
    .text(d => d);
  g.append("text")
    .attr("x", (c.left + c.right) / 2).attr("y", r.bottom + 22.5)
    .attr("text-anchor", "middle").attr("font-size", 11).attr("font-weight", "bold")
    .text("Dag");
  g.append("text")
    .attr("x", c.right + 3.4).attr("y", r.bottom + 21)
    .attr("text-anchor", "end").attr("font-size", 6).attr("font-weight", "bold")
    .attr("fill", "#1010ee")
    .text("Bron:  ECMWF/KNMI");

  // unit label
  g.append("text")
    .attr("transform", `translate(${c.left - 20},${(r.top + r.bottom) / 2}) rotate(-90)`)
    .attr("text-anchor", "middle").attr("font-size", 11).attr("font-weight", "bold")
    .text(p.unit);

  // title
  const title = g.append("text")
    .attr("x", (c.left + c.right) / 2 - 1).attr("y", r.title)
    .attr("text-anchor", "middle").attr("font-size", 10.8).attr("fill", "#111")
    .style("white-space", "pre");
  title.append("tspan").text("Zaterdag  21 Januari   2012  (starttijd  Za 00 ");
  title.append("tspan").attr("font-weight", "bold").text("UTC");
  title.append("tspan").text(")");

  // station and parameter
  g.append("text")
    .attr("x", c.left + 292).attr("y", r.top + 9)
    .attr("text-anchor", "middle").attr("font-size", 9.5)
    .text("De Bilt");
  g.append("text")
    .attr("x", c.left + 288).attr("y", r.top + 20)
    .attr("text-anchor", "middle").attr("font-size", 9.5)
    .text(p.name);

  // legend
  const legend = [
    { label: "Control", s: styles.control },
    { label: "Oper", s: styles.oper },
    { label: "Ens mn", s: styles.mean }
  ];
  legend.forEach((d, i) => {
    const ly = r.top + 7 + i * 6.6;
    g.append("line")
      .attr("x1", c.left + 2.7).attr("x2", c.left + 24.5)
      .attr("y1", ly).attr("y2", ly)
      .call(styleLine, d.s);
    g.append("text")
      .attr("x", c.left + 47.7).attr("y", ly + 2.3)
      .attr("text-anchor", "middle").attr("font-size", 6.8).attr("fill", "#333")
      .text(d.label);
  });
});

// panel frames
const frame = [
  [1.5, 0, 1.5, 553], [776.5, 0, 776.5, 553], [0, 552.5, 778, 552.5],
  [389.5, 0, 389.5, 553], [0, 183, 778, 183], [0, 366.5, 778, 366.5]
];
svg.append("g").selectAll("line").data(frame).join("line")
  .attr("x1", d => d[0]).attr("y1", d => d[1])
  .attr("x2", d => d[2]).attr("y2", d => d[3])
  .attr("stroke", "#3a3af0").attr("stroke-width", 1.3);
</script>
</body>
</html>
